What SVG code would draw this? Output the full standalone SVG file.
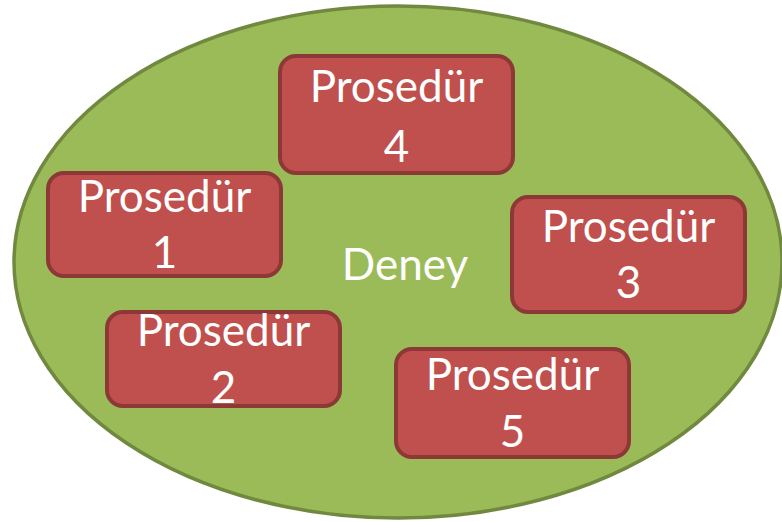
<svg xmlns="http://www.w3.org/2000/svg" width="782" height="522" viewBox="0 0 782 522">
<style>
.box{fill:#C0504D;stroke:#8C3836;stroke-width:4}
.t{font-family:Lato,"Open Sans","Liberation Sans",sans-serif;font-size:44px;fill:#FFFFFF;text-anchor:middle}
</style>
<rect width="782" height="522" fill="#FFFFFF"/>
<g id="deney">
<ellipse cx="398" cy="262" rx="384" ry="256" fill="#9BBB59" stroke="#71893F" stroke-width="3.5"/>
<text class="t" x="405" y="280">Deney</text>
</g>
<g id="connectors"></g>
<g id="p4">
<rect class="box" x="280" y="56" width="233" height="117" rx="16"/>
<text class="t" x="396.5" y="102">Prosedür</text>
<text class="t" x="396.5" y="162">4</text>
</g>
<g id="p1">
<rect class="box" x="48" y="173" width="233" height="103" rx="16"/>
<text class="t" x="164.5" y="212">Prosedür</text>
<text class="t" x="164.5" y="268">1</text>
</g>
<g id="p3">
<rect class="box" x="512" y="197" width="233" height="115" rx="16"/>
<text class="t" x="628.5" y="242">Prosedür</text>
<text class="t" x="628.5" y="298">3</text>
</g>
<g id="p2">
<rect class="box" x="107" y="312" width="233" height="94" rx="16"/>
<text class="t" x="223.5" y="346">Prosedür</text>
<text class="t" x="223.5" y="403">2</text>
</g>
<g id="p5">
<rect class="box" x="396" y="349" width="233" height="108" rx="16"/>
<text class="t" x="512.5" y="390">Prosedür</text>
<text class="t" x="512.5" y="447">5</text>
</g>
</svg>
